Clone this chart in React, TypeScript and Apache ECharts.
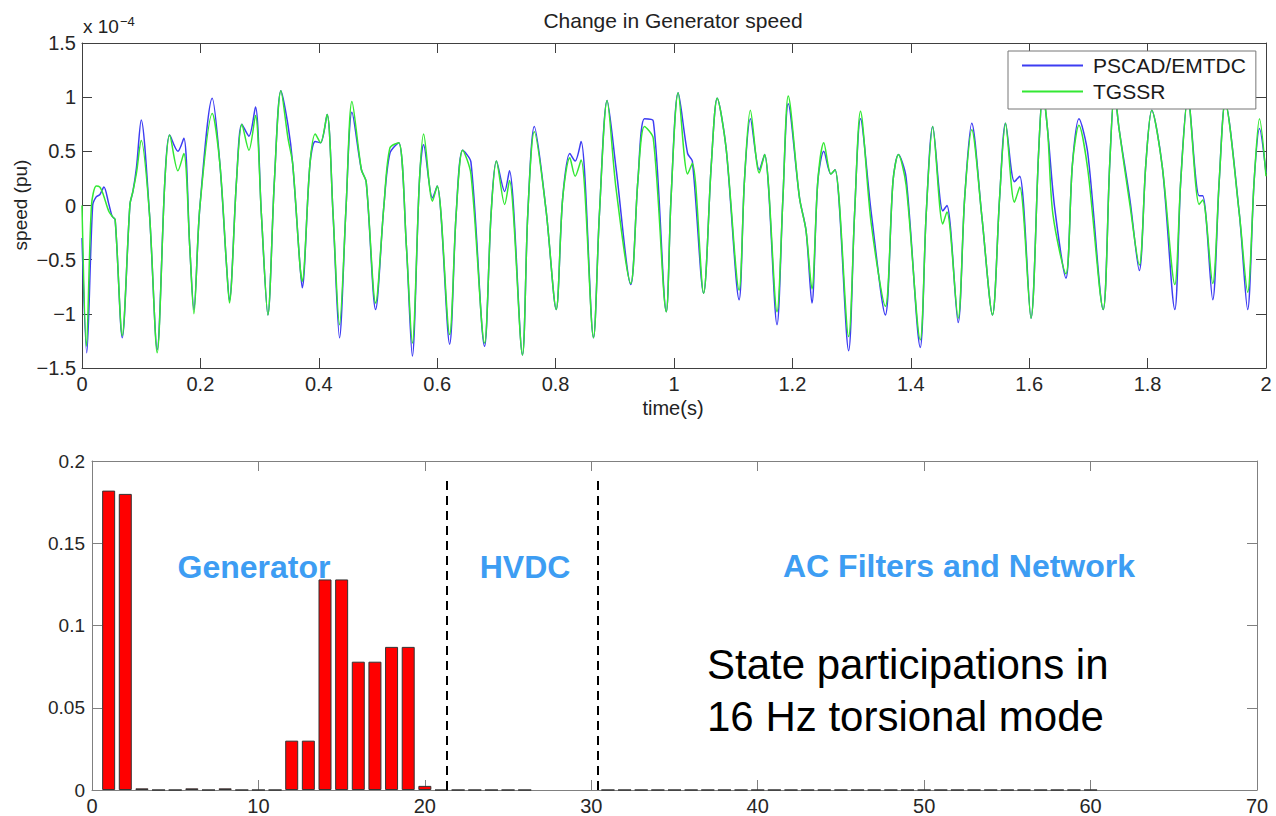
import React, { useEffect, useRef } from "react";
import * as echarts from "echarts";

// ---- Top chart: change in generator speed (x 1e-4 pu) ----
const pscad: [number, number][] = [
  [0.000, -0.30], [0.008, -1.36], [0.018, 0.00], [0.024, 0.08], [0.030, 0.10], [0.037, 0.17],
  [0.045, 0.02], [0.051, -0.10], [0.056, -0.13], [0.068, -1.22], [0.081, 0.01], [0.086, 0.13],
  [0.092, 0.35], [0.100, 0.79], [0.114, -0.08], [0.127, -1.33], [0.140, 0.23], [0.148, 0.65],
  [0.162, 0.50], [0.172, 0.62], [0.182, -0.38], [0.189, -0.96], [0.199, -0.02], [0.220, 0.99],
  [0.233, 0.38], [0.244, -0.54], [0.249, -0.88], [0.261, 0.23], [0.270, 0.75], [0.282, 0.64],
  [0.293, 0.91], [0.303, -0.08], [0.314, -1.01], [0.325, 0.23], [0.336, 1.06], [0.348, 0.74],
  [0.356, 0.38], [0.368, -0.54], [0.372, -0.76], [0.385, 0.38], [0.394, 0.59], [0.403, 0.58],
  [0.414, 0.84], [0.424, -0.07], [0.435, -1.22], [0.446, -0.02], [0.456, 0.86], [0.472, 0.33],
  [0.480, 0.22], [0.496, -0.96], [0.510, 0.00], [0.520, 0.48], [0.535, 0.58], [0.548, -0.38],
  [0.558, -1.39], [0.570, 0.23], [0.577, 0.56], [0.592, 0.07], [0.600, 0.18], [0.621, -1.28],
  [0.632, -0.08], [0.643, 0.51], [0.657, 0.40], [0.680, -1.30], [0.691, -0.08], [0.700, 0.41],
  [0.714, 0.13], [0.722, 0.32], [0.744, -1.38], [0.753, -0.08], [0.764, 0.73], [0.784, -0.05],
  [0.801, -0.96], [0.812, 0.07], [0.824, 0.48], [0.833, 0.41], [0.843, 0.59], [0.864, -1.22],
  [0.874, -0.08], [0.887, 0.97], [0.902, 0.35], [0.927, -0.73], [0.939, 0.23], [0.950, 0.80],
  [0.965, 0.78], [0.987, -0.98], [0.995, 0.07], [1.007, 1.04], [1.023, 0.48], [1.031, 0.41],
  [1.050, -0.81], [1.063, 0.38], [1.073, 0.99], [1.088, 0.53], [1.110, -0.87], [1.119, 0.23],
  [1.129, 0.80], [1.144, 0.33], [1.153, 0.47], [1.174, -1.10], [1.184, 0.07], [1.193, 0.94],
  [1.212, 0.07], [1.223, -0.23], [1.233, -0.90], [1.243, 0.23], [1.253, 0.50], [1.265, 0.29],
  [1.272, 0.33], [1.295, -1.34], [1.305, -0.08], [1.315, 0.80], [1.333, -0.06], [1.357, -1.01],
  [1.370, 0.23], [1.379, 0.47], [1.392, 0.26], [1.416, -1.31], [1.426, -0.08], [1.437, 0.73],
  [1.454, -0.05], [1.461, 0.00], [1.480, -1.08], [1.491, 0.07], [1.503, 0.76], [1.520, -0.10],
  [1.538, -1.01], [1.550, 0.07], [1.560, 0.76], [1.575, 0.22], [1.584, 0.27], [1.603, -1.04],
  [1.616, 0.50], [1.623, 1.05], [1.631, 0.70], [1.643, -0.02], [1.662, -0.67], [1.673, 0.38],
  [1.684, 0.80], [1.699, 0.48], [1.725, -0.96], [1.736, 0.38], [1.744, 1.05], [1.752, 0.70],
  [1.770, 0.06], [1.786, -0.60], [1.797, 0.38], [1.807, 0.88], [1.825, 0.35], [1.846, -0.96],
  [1.856, 0.23], [1.868, 1.00], [1.887, 0.09], [1.893, 0.09], [1.910, -0.87], [1.921, 0.23],
  [1.931, 0.95], [1.955, -0.08], [1.969, -0.96], [1.980, 0.23], [1.989, 0.71], [2.000, 0.30],
];

const tgssr: [number, number][] = [
  [0.000, 0.00], [0.0075, -1.30], [0.016, 0.00], [0.024, 0.18], [0.030, 0.17], [0.036, 0.10],
  [0.045, -0.05], [0.051, -0.10], [0.056, -0.13], [0.068, -1.20], [0.081, 0.01], [0.086, 0.13],
  [0.092, 0.30], [0.100, 0.60], [0.114, -0.08], [0.127, -1.36], [0.140, 0.23], [0.148, 0.65],
  [0.162, 0.32], [0.172, 0.48], [0.182, -0.38], [0.189, -1.00], [0.199, -0.02], [0.220, 0.85],
  [0.233, 0.38], [0.244, -0.54], [0.249, -0.90], [0.261, 0.23], [0.270, 0.75], [0.282, 0.51],
  [0.293, 0.83], [0.303, -0.08], [0.314, -1.01], [0.325, 0.23], [0.336, 1.06], [0.348, 0.62],
  [0.356, 0.38], [0.368, -0.54], [0.372, -0.70], [0.385, 0.38], [0.394, 0.66], [0.403, 0.58],
  [0.414, 0.84], [0.424, -0.07], [0.435, -1.10], [0.446, -0.02], [0.456, 0.96], [0.472, 0.33],
  [0.480, 0.22], [0.496, -0.90], [0.510, 0.00], [0.520, 0.53], [0.535, 0.58], [0.548, -0.38],
  [0.558, -1.27], [0.570, 0.23], [0.577, 0.66], [0.592, 0.04], [0.600, 0.18], [0.621, -1.19],
  [0.632, -0.08], [0.643, 0.51], [0.657, 0.29], [0.680, -1.27], [0.691, -0.08], [0.700, 0.41],
  [0.714, 0.01], [0.722, 0.23], [0.744, -1.38], [0.753, -0.08], [0.764, 0.68], [0.784, -0.05],
  [0.801, -0.96], [0.812, 0.07], [0.824, 0.44], [0.833, 0.27], [0.843, 0.42], [0.864, -1.22],
  [0.874, -0.08], [0.887, 0.97], [0.902, 0.16], [0.927, -0.72], [0.939, 0.23], [0.950, 0.73],
  [0.965, 0.62], [0.987, -0.98], [0.995, 0.07], [1.007, 1.04], [1.023, 0.29], [1.031, 0.39],
  [1.050, -0.81], [1.063, 0.38], [1.073, 0.99], [1.088, 0.53], [1.110, -0.78], [1.119, 0.23],
  [1.129, 0.88], [1.144, 0.30], [1.153, 0.47], [1.174, -0.98], [1.184, 0.07], [1.193, 1.01],
  [1.212, 0.07], [1.223, -0.23], [1.233, -0.77], [1.243, 0.23], [1.253, 0.58], [1.265, 0.29],
  [1.272, 0.33], [1.295, -1.21], [1.305, -0.08], [1.315, 0.87], [1.333, -0.16], [1.357, -0.93],
  [1.370, 0.23], [1.379, 0.47], [1.392, 0.19], [1.416, -1.24], [1.426, -0.08], [1.437, 0.73],
  [1.454, -0.17], [1.461, -0.06], [1.480, -1.04], [1.491, 0.07], [1.503, 0.70], [1.520, -0.10],
  [1.538, -1.01], [1.550, 0.07], [1.560, 0.76], [1.575, 0.03], [1.584, 0.17], [1.603, -1.04],
  [1.616, 0.50], [1.623, 1.05], [1.631, 0.70], [1.640, -0.08], [1.662, -0.63], [1.673, 0.38],
  [1.684, 0.74], [1.699, 0.33], [1.725, -0.96], [1.736, 0.38], [1.744, 1.05], [1.752, 0.70],
  [1.770, 0.01], [1.786, -0.55], [1.797, 0.38], [1.807, 0.88], [1.825, 0.35], [1.846, -0.73],
  [1.856, 0.23], [1.868, 1.00], [1.887, 0.01], [1.893, 0.05], [1.910, -0.72], [1.921, 0.23],
  [1.931, 0.95], [1.955, -0.08], [1.969, -0.80], [1.980, 0.23], [1.989, 0.80], [2.000, 0.27],
];

// ---- Bottom chart: state participations ----
const stateIds = [
  1, 2, 3, 4, 5, 6, 7, 8, 9, 10, 11, 12, 13, 14, 15, 16, 17, 18, 19, 20,
  21, 22, 23, 24, 25, 26,
  31, 32, 33, 34, 35, 36, 37, 38, 39, 40, 41, 42, 43, 44, 45, 46, 47, 48, 49, 50,
  51, 52, 53, 54, 55, 56, 57, 58, 59, 60,
];
const participation = [
  0.182, 0.180, 0.001, 0, 0, 0.001, 0, 0.001, 0, 0, 0, 0.030, 0.030, 0.128, 0.128, 0.078, 0.078, 0.087, 0.087, 0.0025,
  0, 0, 0, 0, 0, 0,
  0, 0, 0, 0, 0, 0, 0, 0, 0, 0, 0, 0, 0, 0, 0, 0, 0, 0, 0, 0,
  0, 0, 0, 0, 0, 0, 0, 0, 0, 0,
];
const groupDividers = [21.3, 30.4];
const groupLabels = ["Generator", "HVDC", "AC Filters and Network"];

const FONT = "'Liberation Sans', Arial, sans-serif";

export default function App() {
  const ref = useRef<HTMLDivElement>(null);
  useEffect(() => {
    if (!ref.current) return;
    const chart = echarts.init(ref.current, undefined, { renderer: "svg" });
    const topLine = "#404040";
    const botLine = "#808080";
    const labelColor = "#262626";
    const tickInside = (color: string) => ({ show: true, inside: true, length: 10, lineStyle: { color } });
    const minus = (v: number) => (v < 0 ? "\u2212" + String(Math.abs(v)) : String(v));

    chart.setOption({
      animation: false,
      backgroundColor: "#ffffff",
      textStyle: { fontFamily: FONT },
      grid: [
        { left: 82, top: 43, width: 1184, height: 325, show: false },
        { left: 92, top: 461, width: 1165, height: 330, show: false },
      ],
      xAxis: [
        {
          gridIndex: 0, type: "value", min: 0, max: 2, interval: 0.2, position: "bottom",
          axisLine: { show: true, onZero: false, lineStyle: { color: topLine } },
          axisTick: tickInside(topLine), splitLine: { show: false },
          axisLabel: { fontSize: 20, color: labelColor, margin: 6, fontFamily: FONT },
        },
        {
          gridIndex: 0, type: "value", min: 0, max: 2, interval: 0.2, position: "top",
          axisLine: { show: true, onZero: false, lineStyle: { color: topLine } },
          axisTick: tickInside(topLine), splitLine: { show: false }, axisLabel: { show: false },
        },
        {
          gridIndex: 1, type: "value", min: 0, max: 70, interval: 10, position: "bottom",
          axisLine: { show: true, onZero: false, lineStyle: { color: botLine } },
          axisTick: tickInside(botLine), splitLine: { show: false },
          axisLabel: { fontSize: 20, color: labelColor, margin: 6, fontFamily: FONT },
        },
        {
          gridIndex: 1, type: "value", min: 0, max: 70, interval: 10, position: "top",
          axisLine: { show: true, onZero: false, lineStyle: { color: botLine } },
          axisTick: tickInside(botLine), splitLine: { show: false }, axisLabel: { show: false },
        },
      ],
      yAxis: [
        {
          gridIndex: 0, type: "value", min: -1.5, max: 1.5, interval: 0.5, position: "left",
          axisLine: { show: true, onZero: false, lineStyle: { color: topLine } },
          axisTick: tickInside(topLine), splitLine: { show: false },
          axisLabel: { fontSize: 20, color: labelColor, margin: 6, fontFamily: FONT, formatter: minus },
        },
        {
          gridIndex: 0, type: "value", min: -1.5, max: 1.5, interval: 0.5, position: "right",
          axisLine: { show: true, onZero: false, lineStyle: { color: topLine } },
          axisTick: tickInside(topLine), splitLine: { show: false }, axisLabel: { show: false },
        },
        {
          gridIndex: 1, type: "value", min: 0, max: 0.2, interval: 0.05, position: "left",
          axisLine: { show: true, onZero: false, lineStyle: { color: botLine } },
          axisTick: tickInside(botLine), splitLine: { show: false },
          axisLabel: { fontSize: 19, color: labelColor, margin: 7, fontFamily: FONT },
        },
        {
          gridIndex: 1, type: "value", min: 0, max: 0.2, interval: 0.05, position: "right",
          axisLine: { show: true, onZero: false, lineStyle: { color: botLine } },
          axisTick: tickInside(botLine), splitLine: { show: false }, axisLabel: { show: false },
        },
      ],
      legend: {
        data: ["PSCAD/EMTDC", "TGSSR"],
        orient: "vertical",
        left: 1008,
        top: 51,
        itemWidth: 61,
        itemHeight: 20,
        itemGap: 5,
        padding: [4, 10, 7, 13],
        backgroundColor: "#ffffff",
        borderColor: "#777777",
        borderWidth: 1,
        borderRadius: 0,
        itemStyle: { opacity: 0 },
        textStyle: { fontSize: 21, color: "#1a1a1a", fontFamily: FONT, padding: [0, 0, 0, 5] },
        z: 10,
      },
      series: [
        {
          name: "PSCAD/EMTDC", type: "line", xAxisIndex: 0, yAxisIndex: 0,
          data: pscad, showSymbol: false, symbol: "none", smooth: 0.3,
          lineStyle: { color: "#3d3df2", width: 1.5 }, itemStyle: { color: "#3d3df2" },
        },
        {
          name: "TGSSR", type: "line", xAxisIndex: 0, yAxisIndex: 0,
          data: tgssr, showSymbol: false, symbol: "none", smooth: 0.3,
          lineStyle: { color: "#33e833", width: 1.5 }, itemStyle: { color: "#33e833" },
        },
        {
          name: "participation", type: "bar", xAxisIndex: 2, yAxisIndex: 2,
          data: stateIds.map((s, i) => [s, participation[i]]),
          barWidth: 13,
          itemStyle: { color: "#ff0000", borderColor: "#333333", borderWidth: 1 },
          markLine: {
            silent: true, symbol: "none", label: { show: false },
            lineStyle: { color: "#000000", width: 2, type: [9, 6] },
            data: groupDividers.map((d) => [{ coord: [d, 0] }, { coord: [d, 0.191] }]),
          },
        },
      ],
      graphic: [
        {
          type: "text", x: 673, y: 20,
          style: { text: "Change in Generator speed", font: `21px ${FONT}`, fill: "#222", textAlign: "center", textVerticalAlign: "middle" },
        },
        {
          type: "text", x: 83, y: 15,
          style: {
            text: "x 10{s|\u22124}", font: `19px ${FONT}`, fill: "#222",
            rich: { s: { fontSize: 13, verticalAlign: "top", padding: [0, 0, 10, 1], fontFamily: FONT } },
          },
        },
        {
          type: "text", x: 20, y: 205, rotation: Math.PI / 2,
          style: { text: "speed (pu)", font: `19px ${FONT}`, fill: "#222", textAlign: "center", textVerticalAlign: "middle" },
        },
        {
          type: "text", x: 673, y: 408,
          style: { text: "time(s)", font: `20px ${FONT}`, fill: "#222", textAlign: "center", textVerticalAlign: "middle" },
        },
        {
          type: "text", x: 254, y: 567,
          style: { text: groupLabels[0], font: `bold 32px ${FONT}`, fill: "#3d9df3", textAlign: "center", textVerticalAlign: "middle" },
        },
        {
          type: "text", x: 525, y: 567,
          style: { text: groupLabels[1], font: `bold 32px ${FONT}`, fill: "#3d9df3", textAlign: "center", textVerticalAlign: "middle" },
        },
        {
          type: "text", x: 959, y: 566,
          style: { text: groupLabels[2], font: `bold 32px ${FONT}`, fill: "#3d9df3", textAlign: "center", textVerticalAlign: "middle" },
        },
        {
          type: "text", x: 707, y: 664,
          style: { text: "State participations in", font: `42px ${FONT}`, fill: "#000", textVerticalAlign: "middle" },
        },
        {
          type: "text", x: 707, y: 716,
          style: { text: "16 Hz torsional mode", font: `42px ${FONT}`, fill: "#000", textVerticalAlign: "middle" },
        },
      ],
    });
    return () => chart.dispose();
  }, []);
  return <div ref={ref} style={{ position: "absolute", left: 0, top: 0, width: 1276, height: 816 }} />;
}
